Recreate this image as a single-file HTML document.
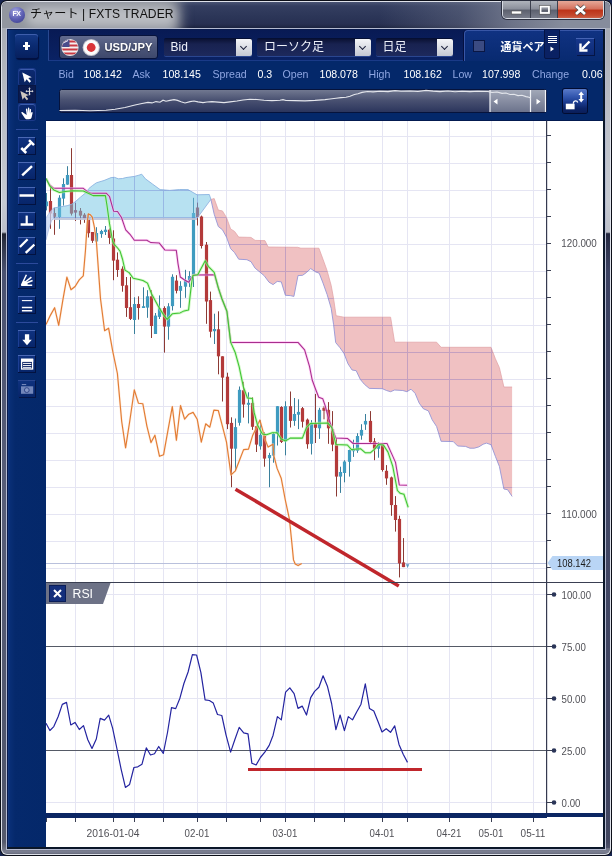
<!DOCTYPE html>
<html lang="ja"><head><meta charset="utf-8"><title>チャート | FXTS TRADER</title>
<style>
html,body{margin:0;padding:0;}
body{width:612px;height:856px;overflow:hidden;background:#17244e;font-family:"Liberation Sans","Noto Sans CJK JP",sans-serif;}
#win{position:absolute;left:0;top:0;width:612px;height:856px;box-sizing:border-box;border-radius:7px;background:#0c0f18;overflow:hidden;}
#hl{position:absolute;left:1px;top:1px;width:610px;height:854px;border-radius:6px;background:#dfe2ea;}
#glass{position:absolute;left:2px;top:2px;width:608px;height:852px;border-radius:5px;
 background:linear-gradient(180deg,#a3a7b0 0,#bcc0c8 120px,#c6cad2 200px,#bcc0ca 230px,#1e2230 232px,#2c3244 240px,#4a5270 270px,#585e78 500px,#50566c 780px,#565a6c 840px,#6e7282 846px,#7c8092 850px,#666a7c 852px);}
#title{position:absolute;left:2px;top:2px;width:608px;height:26px;overflow:hidden;border-radius:5px 5px 0 0;
 background:linear-gradient(180deg,#4a5474 0,#343e60 4px,#2c3658 14px,#283052 22px,#1c2440 26px);}
#glow{position:absolute;left:-30px;top:-12px;width:209px;height:54px;border-radius:20px;background:#92969f;filter:blur(6px);}
#glow2{position:absolute;left:24px;top:5px;width:150px;height:19px;border-radius:9px;background:rgba(255,255,255,.38);filter:blur(5px);}
#tright{position:absolute;left:380px;top:2px;width:230px;height:26px;border-radius:0 5px 0 0;background:linear-gradient(100deg,rgba(126,132,150,0) 0,rgba(126,132,150,.35) 35%,rgba(126,132,150,.8) 58%,rgba(134,140,156,1) 80%);}
#ttext{position:absolute;left:30px;top:5px;font-size:12.100px;line-height:18px;color:#111;white-space:nowrap;letter-spacing:0.100px;}
#ticon{position:absolute;left:8.500px;top:6.500px;width:16px;height:16px;border-radius:50%;background:radial-gradient(circle at 40% 28%,#a4a6e0 0,#5e60b4 50%,#363886 100%);color:#fff;font-size:7px;font-weight:bold;line-height:13.500px;text-align:center;letter-spacing:-0.500px;}
#wb{position:absolute;left:502px;top:1px;width:102px;height:18px;border:1px solid #d8dce4;border-top:none;border-radius:0 0 5px 5px;overflow:hidden;box-sizing:border-box;box-shadow:0 0 0 1px #2c3040;}
#wb div{position:absolute;top:0;height:18px;box-sizing:border-box;}
#wmin{left:0;width:28px;background:linear-gradient(180deg,#b0b4bc 0,#8a8e9a 45%,#5c606e 50%,#7c808e 100%);border-right:1px solid #3c404e;}
#wmax{left:28px;width:27px;background:linear-gradient(180deg,#b0b4bc 0,#8a8e9a 45%,#5c606e 50%,#7c808e 100%);border-right:1px solid #3c404e;}
#wcls{left:55px;width:46px;background:linear-gradient(180deg,#e6a898 0,#d4705c 45%,#bc3218 50%,#c4482e 80%,#d06a50 100%);}
#app{position:absolute;left:6px;top:28px;width:600px;height:822px;background:linear-gradient(90deg,#2a4a8c 0,#0a3078 2px,#05296c 8px,#04286a 40px,#04286a 100%);border:1px solid #b4bad0;box-shadow:inset 0 0 0 1px #081a4e;box-sizing:border-box;}
#topbar{position:absolute;left:48px;top:29.500px;width:555px;height:31.500px;background:linear-gradient(180deg,#081a54 0,#0a2264 100%);border-left:1px solid #284890;border-bottom:1px solid #1a3a88;box-sizing:border-box;}
#white{position:absolute;left:46px;top:120.500px;width:557px;height:726.500px;background:#fff;box-shadow:0 -1px 0 #031a50;}
.lbl{position:absolute;top:67px;font-size:10.600px;line-height:14px;color:#8fa6e2;white-space:nowrap;}
.val{position:absolute;top:67px;font-size:10.600px;line-height:14px;color:#fff;white-space:nowrap;}
.tb{position:absolute;left:18px;width:17px;height:17px;background:linear-gradient(180deg,#0f3280 0,#07256a 100%);
 box-shadow:inset 0 1px 0 #4a68b4,inset 1px 0 0 #1c3e94,1px 1px 0 #021240,0 1px 0 #021240;}
.tb svg{display:block}
.tb.flat{background:linear-gradient(180deg,#0c2a72 0,#08225f 100%);box-shadow:inset 0 1px 0 #3c5cac,0 0 0 1px #1c3a8a;left:19px;width:16px;height:16px;border-radius:2px}
.tb.sel{background:#0a1a4e;box-shadow:0 0 0 1px #081644;left:19px;width:16px;height:16px}
.tb.dis{box-shadow:inset 0 1px 0 #2a4690,1px 1px 0 #051545;}
.cg{display:none}
.sep{position:absolute;left:16px;width:22px;height:1px;background:#2c4a9c;}
.dd{position:absolute;top:39px;height:17px;background:linear-gradient(180deg,#0b1234 0,#182250 30%,#1d295c 100%);border-radius:2px;box-shadow:0 1px 0 #2a4690,0 -1px 0 #050f33;color:#eef1fa;font-size:12px;line-height:17px;}
.dd span{position:absolute;left:7px;top:0;white-space:nowrap}
.dd i{position:absolute;right:0;top:0;width:16px;height:17px;background:linear-gradient(180deg,#f4f5f8 0,#c4c8d2 100%);border-radius:0 2px 2px 0;}
.dd i:after{content:"";position:absolute;left:5px;top:4.500px;width:4px;height:4px;border-right:1.700px solid #1a1f3a;border-bottom:1.700px solid #1a1f3a;transform:rotate(45deg);}
#pair{position:absolute;left:58.500px;top:35px;width:99px;height:24px;box-sizing:border-box;border:1px solid #07133c;border-radius:3px;
 background:linear-gradient(180deg,#626b8e 0,#4c5679 50%,#3e486c 100%);}
#pair b{position:absolute;left:45px;top:4px;font-size:11.200px;line-height:14px;color:#fff;text-shadow:0 1px 1px rgba(0,0,0,.5);white-space:nowrap}
#plus{position:absolute;left:14.500px;top:34px;width:23.500px;height:24px;border-radius:3px;background:linear-gradient(180deg,#153a88 0,#0a2a70 50%,#07205e 100%);box-shadow:inset 0 1px 0 #3e5eac,1px 2px 1px #021040;}
#plus:after{content:"";position:absolute;left:8.200px;top:10.900px;width:7.600px;height:2.300px;background:#fff}
#plus:before{content:"";position:absolute;left:10.850px;top:8.200px;width:2.300px;height:7.600px;background:#fff}
#ccy{position:absolute;left:463.500px;top:30px;width:139.500px;height:31px;border-radius:4px 0 0 0;border-left:1px solid #3856a6;border-top:1px solid #3856a6;background:linear-gradient(180deg,#103282 0,#082a70 100%);box-sizing:border-box;box-shadow:-1px 0 0 #041040;}
#ccy u{position:absolute;left:8px;top:9px;width:12px;height:12px;background:#3b4b82;border:1px solid #0a1744;box-sizing:border-box;}
#ccy b{position:absolute;left:36px;top:7.500px;font-size:11px;line-height:16px;color:#fff;white-space:nowrap;}
#tab{position:absolute;left:544px;top:29px;width:15.500px;height:29.500px;background:#0a2163;border:1px solid #051445;box-sizing:border-box;border-radius:0 0 2px 2px;}
#shr{position:absolute;left:576px;top:38px;width:18px;height:17px;background:linear-gradient(180deg,#17388c 0,#0d2a76 100%);box-shadow:inset 0 1px 0 #4664b4,1px 1px 0 #051545;}
#lock{position:absolute;left:563px;top:89px;width:24px;height:23.500px;border-radius:2px;background:linear-gradient(180deg,#5a7ac8 0,#3458b0 30%,#1c3c90 55%,#0c2468 80%,#0a1e5a 100%);box-shadow:0 0 0 1px #020c30;}
</style></head><body>
<div id="win">
 <div id="hl"></div><div id="glass"></div>
 <div id="title"><div id="glow"></div><div id="glow2"></div></div><div id="tright"></div>
 <div id="ticon">FX</div>
 <div id="ttext">チャート | FXTS TRADER</div>
 <div id="wb"><div id="wmin"><svg width="28" height="18"><rect x="8.500" y="10" width="10" height="3" fill="#fff" stroke="#555" stroke-width=".6"/></svg></div>
  <div id="wmax"><svg width="27" height="18"><rect x="9.500" y="5.500" width="8.500" height="6.500" fill="none" stroke="#fff" stroke-width="1.900"/><rect x="8.300" y="4.300" width="10.900" height="8.900" fill="none" stroke="#555" stroke-width=".6"/></svg></div>
  <div id="wcls"><svg width="46" height="18"><path d="M18 5l9 8M27 5l-9 8" stroke="#444" stroke-width="4.200"/><path d="M18 5l9 8M27 5l-9 8" stroke="#fff" stroke-width="2.800"/></svg></div></div>
 <div id="app"></div>
</div>
<div id="topbar"></div>
<div id="white"></div><div style="position:absolute;left:603px;top:29px;width:2px;height:820px;background:#0a1628"></div><div style="position:absolute;left:7px;top:847px;width:598px;height:2px;background:#0a1628"></div><div style="position:absolute;left:606px;top:233px;width:4px;height:615px;background:rgba(40,44,80,.45)"></div>
<div id="plus"></div>
<div id="pair">
 <svg style="position:absolute;left:.5px;top:2px" width="42" height="19" viewBox="0 0 42 19">
  <defs><clipPath id="us"><circle cx="10" cy="9.500" r="8"/></clipPath></defs>
  <circle cx="10" cy="9.500" r="8.600" fill="#d8d8dc"/>
  <g clip-path="url(#us)"><rect x="0" y="0" width="20" height="20" fill="#f4f0f0"/>
  <path d="M0 3.500h20M0 7.500h20M0 11.500h20M0 15.500h20" stroke="#c83a44" stroke-width="2"/>
  <rect x="0" y="0" width="9.500" height="9" fill="#4a4c8c"/><path d="M3 5l5-2.500" stroke="#e8e8f4" stroke-width="1.200"/></g>
  <circle cx="31.200" cy="9.500" r="8.600" fill="#c8c8d0"/><circle cx="31.200" cy="9.500" r="7.600" fill="#fbfbfb"/><circle cx="31.200" cy="9.500" r="4.400" fill="#d93438"/>
 </svg>
 <b>USD/JPY</b></div>
<div class="dd" style="left:163.500px;width:88.500px"><span>Bid</span><i></i></div>
<div class="dd" style="left:257px;width:114px"><span>ローソク足</span><i></i></div>
<div class="dd" style="left:375.500px;width:77px"><span>日足</span><i></i></div>
<div id="ccy"><u></u><b>通貨ペア</b></div>
<div id="tab"><svg width="14" height="28" viewBox="0 0 14 28"><path d="M3 6.500h9M3 8.500h9M3 10.500h9M3 12.500h9" stroke="#fff" stroke-width="1"/><path d="M5.500 16.500v5l3.500-2.500z" fill="#fff"/></svg></div>
<div id="shr"><svg width="18" height="17" viewBox="0 0 18 17"><path d="M13.500 3.500L6 11" stroke="#fff" stroke-width="2.400"/><path d="M4.500 5.500v7h7" fill="none" stroke="#fff" stroke-width="2.400"/></svg></div>
<span class="lbl" style="left:58.500px">Bid</span><span class="val" style="left:83.500px">108.142</span>
<span class="lbl" style="left:132.500px">Ask</span><span class="val" style="left:162.500px">108.145</span>
<span class="lbl" style="left:212.500px">Spread</span><span class="val" style="left:257.500px">0.3</span>
<span class="lbl" style="left:282.500px">Open</span><span class="val" style="left:319.500px">108.078</span>
<span class="lbl" style="left:368.500px">High</span><span class="val" style="left:403.500px">108.162</span>
<span class="lbl" style="left:452.500px">Low</span><span class="val" style="left:482px">107.998</span>
<span class="lbl" style="left:532px">Change</span><span class="val" style="left:582px">0.06</span>
<svg style="position:absolute;left:0;top:0" width="612" height="130" viewBox="0 0 612 130"><defs><linearGradient id="ng" x1="0" y1="0" x2="0" y2="1"><stop offset="0" stop-color="#737a92"/><stop offset="0.45" stop-color="#4a5272"/><stop offset="1" stop-color="#2a345c"/></linearGradient><linearGradient id="nw" x1="0" y1="0" x2="0" y2="1"><stop offset="0" stop-color="#a2a8b8"/><stop offset="1" stop-color="#6c738c"/></linearGradient></defs><rect x="59.5" y="89.5" width="487" height="23" rx="2" fill="url(#ng)" stroke="#06133c" stroke-width="1"/><rect x="490" y="90" width="56" height="22" fill="url(#nw)"/><path d="M490 90V112M530.5 90V112M545.5 90V112" stroke="#f2f4f8" stroke-width="1.2"/><path d="M497.5 98.8v5.6l-4-2.8zM536.5 98.8v5.6l4-2.8z" fill="#fff"/><polyline points="59.5,110.5 75.0,110.2 90.0,110.8 106.0,110.3 115.0,109.2 125.0,107.5 135.0,105.0 142.0,103.5 148.0,102.4 152.0,102.9 156.0,101.6 160.0,102.2 163.0,100.2 166.0,101.2 170.0,100.4 174.0,99.6 177.5,100.4 181.0,101.8 185.0,103.0 190.0,101.6 194.0,101.0 198.0,101.9 203.0,102.6 207.0,102.0 212.0,101.6 218.0,102.1 224.0,102.6 230.0,101.9 237.0,101.0 243.0,100.0 250.0,99.3 257.0,99.5 264.0,100.3 272.0,100.6 280.0,100.2 283.0,99.6 286.0,100.5 295.0,100.6 305.0,100.9 315.0,100.4 325.0,99.6 330.0,99.0 336.0,98.2 341.0,97.6 346.0,97.2 350.0,96.2 354.4,94.5 358.0,93.8 362.0,92.4 367.6,91.5 373.0,91.9 380.0,91.2 388.0,91.6 395.0,90.6 401.0,91.3 410.0,91.0 418.0,91.5 426.0,90.4 433.0,91.1 440.0,91.6 448.0,91.0 455.0,91.7 462.0,91.2 470.0,91.6 478.0,91.2 488.0,91.5 492.0,92.5 497.0,92.0 502.0,93.4 506.0,93.0 510.0,94.5 514.0,94.2 518.0,95.6 522.0,95.2 526.0,96.6 529.0,97.2 531.0,98.2" fill="none" stroke="#e4e6ec" stroke-width="1.1"/></svg>
<div id="lock"><svg width="25" height="25" viewBox="0 0 25 25"><rect x="2.800" y="14.700" width="8.800" height="5.600" fill="#fff"/><path d="M10.400 14.700v-.8a2.200 2.200 0 0 1 4.300-.4" fill="none" stroke="#fff" stroke-width="1.300"/><path d="M18.200 5v6" stroke="#fff" stroke-width="2"/><path d="M18.200 2.500l2.800 3.600h-5.600zM18.200 13.600l2.800-3.600h-5.600z" fill="#fff"/></svg></div>
<div class="cg"></div>
<div class="tb flat" style="top:69px"><svg width="17" height="17" viewBox="0 0 17 17"><path d="M4.5 2.5v10l2.6-2.4 1.9 4 1.9-.9-1.9-3.9h3.6z" fill="#fff" transform="rotate(-14 8 8)"/></svg></div>
<div class="tb sel" style="top:86px"><svg width="17" height="17" viewBox="0 0 17 17"><path d="M2.5 4v9l2.3-2.1 1.7 3.6 1.7-.8-1.7-3.5h3.2z" fill="#cfc8c0" transform="rotate(-14 6 9)"/><path d="M10.5 2.3v6M7.5 5.3h6" stroke="#dcdcdc" stroke-width="1"/><path d="M10.5 1.2l1.300 1.600h-2.600zM10.500 9.400l1.300-1.600h-2.600zM6.400 5.300l1.600-1.300v2.600zM14.600 5.300l-1.600-1.300v2.600z" fill="#dcdcdc"/></svg></div>
<div class="tb flat" style="top:104px"><svg width="17" height="17" viewBox="0 0 17 17"><path d="M4 8.500c-1-.8-2.200-.3-1.300.9l3 4.600c.6.900 1.300 1.200 2.300 1.200h2c1.600 0 2.400-1 2.700-2.300l.9-4c.2-1-1.100-1.300-1.400-.4l-.4 1.200.3-3.900c.1-1-1.300-1.100-1.400-.1l-.3 3.300-.1-4.800c0-1-1.400-1-1.400 0v4.800l-.6-3.800c-.2-1-1.500-.8-1.400.2l.8 5.500z" fill="#fff"/></svg></div>
<div class="tb " style="top:137px"><svg width="17" height="17" viewBox="0 0 17 17"><path d="M5.600 13.400l8-8" stroke="#fff" stroke-width="2.300"/><path d="M3.200 11l5 5M11 3.200l5 5" stroke="#fff" stroke-width="2.500"/></svg></div>
<div class="tb " style="top:162px"><svg width="17" height="17" viewBox="0 0 17 17"><path d="M4.200 13.400l9.800-9.200" stroke="#fff" stroke-width="2.400"/></svg></div>
<div class="tb " style="top:187px"><svg width="17" height="17" viewBox="0 0 17 17"><path d="M1.500 8.500h14.500" stroke="#fff" stroke-width="2.500"/></svg></div>
<div class="tb " style="top:212px"><svg width="17" height="17" viewBox="0 0 17 17"><path d="M2.600 12.500h12.600" stroke="#fff" stroke-width="2.500"/><path d="M8.700 3.600v9" stroke="#fff" stroke-width="2.200"/></svg></div>
<div class="tb " style="top:237px"><svg width="17" height="17" viewBox="0 0 17 17"><path d="M1.900 10l7.700-7.700M7.700 15.800l8.700-8.300" stroke="#fff" stroke-width="2.300"/></svg></div>
<div class="tb " style="top:271px"><svg width="17" height="17" viewBox="0 0 17 17"><path d="M3.500 14L8.400 3.800M3.500 14L13.400 6.200M3.500 14L14.600 9.500M3.500 14.200H14.200" stroke="#fff" stroke-width="1.500"/><path d="M3 15l2.400-5.500 2.600 1.300 1.500 1.800 .3 2.400z" fill="#fff"/></svg></div>
<div class="tb " style="top:296px"><svg width="17" height="17" viewBox="0 0 17 17"><path d="M3.900 4.600h10.300" stroke="#fff" stroke-width="1.100"/><path d="M3.900 11.500h10.300M3.900 14.700h10.300" stroke="#fff" stroke-width="1.500"/></svg></div>
<div class="tb " style="top:330px"><svg width="17" height="17" viewBox="0 0 17 17"><path d="M6.900 4.200h4.300v5.600h2.600l-4.800 5.400-4.700-5.400h2.600z" fill="#fff"/></svg></div>
<div class="tb " style="top:355px"><svg width="17" height="17" viewBox="0 0 17 17"><rect x="3.600" y="4.400" width="11" height="9.600" fill="#0a2264" stroke="#fff" stroke-width="1.300"/><path d="M3 5.300h12.200" stroke="#fff" stroke-width="3.200"/><path d="M5 8.400h8.300M5 10.600h8.300M5 12.700h8.300" stroke="#fff" stroke-width="1"/></svg></div>
<div class="tb dis" style="top:380px"><svg width="17" height="17" viewBox="0 0 17 17"><rect x="3" y="6.300" width="12.200" height="7.500" fill="#7286ba"/><rect x="3.800" y="4" width="4.400" height="1.100" fill="#7286ba"/><circle cx="8.800" cy="10.100" r="2.400" fill="#8496c6" stroke="#33488a" stroke-width="1"/></svg></div>
<div class="sep" style="top:128.500px"></div>
<div class="sep" style="top:262.500px"></div>
<div class="sep" style="top:321.500px"></div>
<svg id="chart" style="position:absolute;left:0;top:0" width="612" height="856" viewBox="0 0 612 856">
<defs><clipPath id="cpm"><rect x="46" y="120" width="501" height="462.5"/></clipPath><clipPath id="cpr"><rect x="46" y="583" width="501" height="231"/></clipPath></defs>
<path d="M75.5 120.5V813.5M113.5 120.5V813.5M134.5 120.5V813.5M163.5 120.5V813.5M197.5 120.5V813.5M226.5 120.5V813.5M260.5 120.5V813.5M285.5 120.5V813.5M314.5 120.5V813.5M344.5 120.5V813.5M382.5 120.5V813.5M407.5 120.5V813.5M449.5 120.5V813.5M491.5 120.5V813.5M533.5 120.5V813.5M46 568.5H546M46 541.5H546M46 514.5H546M46 487.5H546M46 460.5H546M46 433.5H546M46 406.5H546M46 379.5H546M46 352.5H546M46 325.5H546M46 298.5H546M46 271.5H546M46 244.5H546M46 217.5H546M46 190.5H546M46 163.5H546M46 136.5H546M46 594.5H547M46 698.5H547M46 802.5H547" stroke="#e5e5f3" stroke-width="1" fill="none" shape-rendering="crispEdges"/>
<path d="M46 563.5H547" stroke="#b9c0dc" stroke-width="1" shape-rendering="crispEdges"/>
<g clip-path="url(#cpm)">
<rect x="46.0" y="193.0" width="1" height="17.4" fill="#3a7f9c"/>
<rect x="44.9" y="201.5" width="3.2" height="4.7" fill="#3f9bc0"/>
<rect x="50.0" y="186.8" width="1" height="42.0" fill="#8c3a34"/>
<rect x="48.9" y="201.0" width="3.2" height="12.5" fill="#b33a3a"/>
<rect x="54.0" y="207.8" width="1" height="27.0" fill="#8c3a34"/>
<rect x="52.9" y="213.0" width="3.2" height="3.8" fill="#b33a3a"/>
<rect x="59.0" y="195.2" width="1" height="33.6" fill="#3a7f9c"/>
<rect x="57.9" y="197.7" width="3.2" height="19.3" fill="#3f9bc0"/>
<rect x="63.0" y="178.3" width="1" height="27.3" fill="#3a7f9c"/>
<rect x="61.9" y="184.0" width="3.2" height="14.6" fill="#3f9bc0"/>
<rect x="67.0" y="166.2" width="1" height="18.6" fill="#3a7f9c"/>
<rect x="65.9" y="175.0" width="3.2" height="9.6" fill="#3f9bc0"/>
<rect x="71.0" y="148.2" width="1" height="67.3" fill="#8c3a34"/>
<rect x="69.9" y="175.0" width="3.2" height="38.6" fill="#b33a3a"/>
<rect x="75.0" y="203.0" width="1" height="18.0" fill="#8c3a34"/>
<rect x="73.9" y="210.1" width="3.2" height="2.5" fill="#b33a3a"/>
<rect x="80.0" y="208.0" width="1" height="16.4" fill="#8c3a34"/>
<rect x="78.9" y="210.8" width="3.2" height="4.8" fill="#b33a3a"/>
<rect x="84.0" y="213.1" width="1" height="9.7" fill="#8c3a34"/>
<rect x="82.9" y="214.7" width="3.2" height="3.9" fill="#b33a3a"/>
<rect x="88.0" y="213.0" width="1" height="24.5" fill="#8c3a34"/>
<rect x="86.9" y="218.0" width="3.2" height="15.2" fill="#b33a3a"/>
<rect x="92.0" y="232.0" width="1" height="10.9" fill="#8c3a34"/>
<rect x="90.9" y="232.0" width="3.2" height="8.8" fill="#b33a3a"/>
<rect x="96.0" y="227.2" width="1" height="14.9" fill="#3a7f9c"/>
<rect x="94.9" y="233.0" width="3.2" height="8.5" fill="#3f9bc0"/>
<rect x="101.0" y="229.8" width="1" height="8.0" fill="#3a7f9c"/>
<rect x="99.9" y="231.0" width="3.2" height="3.1" fill="#3f9bc0"/>
<rect x="105.0" y="226.0" width="1" height="9.0" fill="#3a7f9c"/>
<rect x="103.9" y="229.7" width="3.2" height="2.3" fill="#3f9bc0"/>
<rect x="109.0" y="228.4" width="1" height="15.5" fill="#8c3a34"/>
<rect x="107.9" y="229.7" width="3.2" height="8.2" fill="#b33a3a"/>
<rect x="113.0" y="230.3" width="1" height="49.9" fill="#8c3a34"/>
<rect x="111.9" y="238.5" width="3.2" height="22.1" fill="#b33a3a"/>
<rect x="117.0" y="252.4" width="1" height="24.5" fill="#8c3a34"/>
<rect x="115.9" y="259.7" width="3.2" height="10.3" fill="#b33a3a"/>
<rect x="122.0" y="266.3" width="1" height="25.4" fill="#8c3a34"/>
<rect x="120.9" y="268.7" width="3.2" height="17.1" fill="#b33a3a"/>
<rect x="126.0" y="277.0" width="1" height="39.9" fill="#8c3a34"/>
<rect x="124.9" y="285.3" width="3.2" height="22.7" fill="#b33a3a"/>
<rect x="130.0" y="277.0" width="1" height="43.0" fill="#8c3a34"/>
<rect x="128.9" y="307.2" width="3.2" height="11.7" fill="#b33a3a"/>
<rect x="134.0" y="297.3" width="1" height="36.7" fill="#3a7f9c"/>
<rect x="132.9" y="304.0" width="3.2" height="16.0" fill="#3f9bc0"/>
<rect x="138.0" y="296.3" width="1" height="23.3" fill="#8c3a34"/>
<rect x="136.9" y="304.0" width="3.2" height="4.0" fill="#b33a3a"/>
<rect x="143.0" y="287.3" width="1" height="20.7" fill="#3a7f9c"/>
<rect x="141.9" y="306.2" width="3.2" height="1.8" fill="#3f9bc0"/>
<rect x="147.0" y="290.2" width="1" height="27.6" fill="#3a7f9c"/>
<rect x="145.9" y="296.3" width="3.2" height="11.3" fill="#3f9bc0"/>
<rect x="151.0" y="290.2" width="1" height="47.8" fill="#8c3a34"/>
<rect x="149.9" y="296.3" width="3.2" height="29.7" fill="#b33a3a"/>
<rect x="155.0" y="313.0" width="1" height="21.0" fill="#3a7f9c"/>
<rect x="153.9" y="315.6" width="3.2" height="18.4" fill="#3f9bc0"/>
<rect x="159.0" y="295.4" width="1" height="23.6" fill="#3a7f9c"/>
<rect x="157.9" y="308.1" width="3.2" height="8.8" fill="#3f9bc0"/>
<rect x="164.0" y="306.3" width="1" height="46.3" fill="#8c3a34"/>
<rect x="162.9" y="308.0" width="3.2" height="18.6" fill="#b33a3a"/>
<rect x="168.0" y="303.2" width="1" height="36.5" fill="#3a7f9c"/>
<rect x="166.9" y="306.3" width="3.2" height="20.3" fill="#3f9bc0"/>
<rect x="172.0" y="274.3" width="1" height="36.2" fill="#3a7f9c"/>
<rect x="170.9" y="276.8" width="3.2" height="29.3" fill="#3f9bc0"/>
<rect x="176.0" y="275.2" width="1" height="18.2" fill="#8c3a34"/>
<rect x="174.9" y="280.6" width="3.2" height="10.2" fill="#b33a3a"/>
<rect x="180.0" y="281.2" width="1" height="26.6" fill="#3a7f9c"/>
<rect x="178.9" y="285.9" width="3.2" height="4.9" fill="#3f9bc0"/>
<rect x="185.0" y="269.8" width="1" height="28.0" fill="#3a7f9c"/>
<rect x="183.9" y="280.6" width="3.2" height="6.1" fill="#3f9bc0"/>
<rect x="189.0" y="271.2" width="1" height="15.9" fill="#3a7f9c"/>
<rect x="187.9" y="276.0" width="3.2" height="4.6" fill="#3f9bc0"/>
<rect x="193.0" y="197.8" width="1" height="89.2" fill="#3a7f9c"/>
<rect x="191.9" y="213.0" width="3.2" height="62.4" fill="#3f9bc0"/>
<rect x="197.0" y="202.6" width="1" height="22.9" fill="#8c3a34"/>
<rect x="195.9" y="207.5" width="3.2" height="9.5" fill="#b33a3a"/>
<rect x="201.0" y="215.6" width="1" height="32.9" fill="#8c3a34"/>
<rect x="199.9" y="216.5" width="3.2" height="29.5" fill="#b33a3a"/>
<rect x="206.0" y="242.0" width="1" height="81.8" fill="#8c3a34"/>
<rect x="204.9" y="244.7" width="3.2" height="56.8" fill="#b33a3a"/>
<rect x="210.0" y="291.6" width="1" height="45.9" fill="#8c3a34"/>
<rect x="208.9" y="300.1" width="3.2" height="31.6" fill="#b33a3a"/>
<rect x="214.0" y="313.7" width="1" height="30.3" fill="#3a7f9c"/>
<rect x="212.9" y="329.0" width="3.2" height="2.2" fill="#3f9bc0"/>
<rect x="218.0" y="311.3" width="1" height="63.0" fill="#8c3a34"/>
<rect x="216.9" y="329.3" width="3.2" height="27.0" fill="#b33a3a"/>
<rect x="222.0" y="356.3" width="1" height="45.2" fill="#8c3a34"/>
<rect x="220.9" y="356.3" width="3.2" height="21.3" fill="#b33a3a"/>
<rect x="227.0" y="372.7" width="1" height="56.4" fill="#8c3a34"/>
<rect x="225.9" y="376.7" width="3.2" height="47.5" fill="#b33a3a"/>
<rect x="231.0" y="417.3" width="1" height="69.9" fill="#8c3a34"/>
<rect x="229.9" y="422.9" width="3.2" height="25.8" fill="#b33a3a"/>
<rect x="235.0" y="418.5" width="1" height="52.3" fill="#3a7f9c"/>
<rect x="233.9" y="427.1" width="3.2" height="21.6" fill="#3f9bc0"/>
<rect x="239.0" y="386.5" width="1" height="39.1" fill="#3a7f9c"/>
<rect x="237.9" y="389.8" width="3.2" height="33.0" fill="#3f9bc0"/>
<rect x="243.0" y="381.8" width="1" height="35.8" fill="#8c3a34"/>
<rect x="241.9" y="390.3" width="3.2" height="14.2" fill="#b33a3a"/>
<rect x="248.0" y="392.3" width="1" height="31.1" fill="#3a7f9c"/>
<rect x="246.9" y="402.8" width="3.2" height="2.0" fill="#3f9bc0"/>
<rect x="252.0" y="397.2" width="1" height="32.7" fill="#8c3a34"/>
<rect x="250.9" y="402.9" width="3.2" height="23.9" fill="#b33a3a"/>
<rect x="256.0" y="425.8" width="1" height="26.2" fill="#8c3a34"/>
<rect x="254.9" y="426.2" width="3.2" height="18.4" fill="#b33a3a"/>
<rect x="260.0" y="420.0" width="1" height="29.6" fill="#3a7f9c"/>
<rect x="258.9" y="434.8" width="3.2" height="11.5" fill="#3f9bc0"/>
<rect x="264.0" y="432.4" width="1" height="34.3" fill="#8c3a34"/>
<rect x="262.9" y="435.6" width="3.2" height="23.0" fill="#b33a3a"/>
<rect x="269.0" y="452.8" width="1" height="34.4" fill="#3a7f9c"/>
<rect x="267.9" y="455.0" width="3.2" height="3.2" fill="#3f9bc0"/>
<rect x="273.0" y="432.4" width="1" height="30.3" fill="#3a7f9c"/>
<rect x="271.9" y="434.0" width="3.2" height="21.6" fill="#3f9bc0"/>
<rect x="277.0" y="406.2" width="1" height="39.3" fill="#3a7f9c"/>
<rect x="275.9" y="406.2" width="3.2" height="27.8" fill="#3f9bc0"/>
<rect x="281.0" y="406.2" width="1" height="36.8" fill="#8c3a34"/>
<rect x="279.9" y="407.0" width="3.2" height="34.9" fill="#b33a3a"/>
<rect x="285.0" y="401.3" width="1" height="54.0" fill="#3a7f9c"/>
<rect x="283.9" y="406.2" width="3.2" height="35.2" fill="#3f9bc0"/>
<rect x="290.0" y="391.5" width="1" height="36.0" fill="#8c3a34"/>
<rect x="288.9" y="406.2" width="3.2" height="14.7" fill="#b33a3a"/>
<rect x="294.0" y="398.0" width="1" height="27.8" fill="#3a7f9c"/>
<rect x="292.9" y="414.0" width="3.2" height="6.9" fill="#3f9bc0"/>
<rect x="298.0" y="399.3" width="1" height="29.8" fill="#3a7f9c"/>
<rect x="296.9" y="411.9" width="3.2" height="2.8" fill="#3f9bc0"/>
<rect x="302.0" y="407.0" width="1" height="20.5" fill="#8c3a34"/>
<rect x="300.9" y="408.2" width="3.2" height="13.5" fill="#b33a3a"/>
<rect x="307.0" y="418.5" width="1" height="30.2" fill="#8c3a34"/>
<rect x="305.9" y="419.6" width="3.2" height="24.6" fill="#b33a3a"/>
<rect x="311.0" y="420.1" width="1" height="34.4" fill="#3a7f9c"/>
<rect x="309.9" y="422.9" width="3.2" height="20.9" fill="#3f9bc0"/>
<rect x="315.0" y="393.9" width="1" height="49.1" fill="#8c3a34"/>
<rect x="313.9" y="423.4" width="3.2" height="4.4" fill="#b33a3a"/>
<rect x="319.0" y="407.8" width="1" height="31.1" fill="#3a7f9c"/>
<rect x="317.9" y="409.8" width="3.2" height="18.5" fill="#3f9bc0"/>
<rect x="323.5" y="406.2" width="1" height="13.1" fill="#8c3a34"/>
<rect x="322.4" y="407.8" width="3.2" height="3.0" fill="#b33a3a"/>
<rect x="328.0" y="402.1" width="1" height="41.7" fill="#8c3a34"/>
<rect x="326.9" y="409.8" width="3.2" height="18.5" fill="#b33a3a"/>
<rect x="332.0" y="411.1" width="1" height="40.1" fill="#8c3a34"/>
<rect x="330.9" y="429.1" width="3.2" height="15.5" fill="#b33a3a"/>
<rect x="336.0" y="438.1" width="1" height="58.4" fill="#8c3a34"/>
<rect x="334.9" y="444.6" width="3.2" height="32.0" fill="#b33a3a"/>
<rect x="340.0" y="466.7" width="1" height="26.2" fill="#3a7f9c"/>
<rect x="338.9" y="472.0" width="3.2" height="4.6" fill="#3f9bc0"/>
<rect x="344.0" y="460.2" width="1" height="22.1" fill="#3a7f9c"/>
<rect x="342.9" y="461.5" width="3.2" height="11.5" fill="#3f9bc0"/>
<rect x="349.0" y="449.6" width="1" height="27.0" fill="#3a7f9c"/>
<rect x="347.9" y="450.0" width="3.2" height="11.8" fill="#3f9bc0"/>
<rect x="353.0" y="439.7" width="1" height="17.2" fill="#3a7f9c"/>
<rect x="351.9" y="449.6" width="3.2" height="1.6" fill="#3f9bc0"/>
<rect x="357.0" y="433.2" width="1" height="19.6" fill="#3a7f9c"/>
<rect x="355.9" y="436.0" width="3.2" height="14.7" fill="#3f9bc0"/>
<rect x="361.0" y="424.2" width="1" height="15.5" fill="#3a7f9c"/>
<rect x="359.9" y="429.9" width="3.2" height="5.7" fill="#3f9bc0"/>
<rect x="365.0" y="414.0" width="1" height="15.9" fill="#3a7f9c"/>
<rect x="363.9" y="420.9" width="3.2" height="3.6" fill="#3f9bc0"/>
<rect x="370.0" y="411.1" width="1" height="31.9" fill="#8c3a34"/>
<rect x="368.9" y="420.9" width="3.2" height="21.3" fill="#b33a3a"/>
<rect x="374.0" y="438.1" width="1" height="22.1" fill="#8c3a34"/>
<rect x="372.9" y="441.4" width="3.2" height="7.3" fill="#b33a3a"/>
<rect x="378.0" y="442.2" width="1" height="15.5" fill="#3a7f9c"/>
<rect x="376.9" y="444.6" width="3.2" height="4.1" fill="#3f9bc0"/>
<rect x="382.0" y="443.0" width="1" height="28.6" fill="#8c3a34"/>
<rect x="380.9" y="444.6" width="3.2" height="25.4" fill="#b33a3a"/>
<rect x="386.0" y="465.1" width="1" height="19.7" fill="#8c3a34"/>
<rect x="384.9" y="470.8" width="3.2" height="7.6" fill="#b33a3a"/>
<rect x="391.0" y="476.6" width="1" height="39.2" fill="#8c3a34"/>
<rect x="389.9" y="477.4" width="3.2" height="27.7" fill="#b33a3a"/>
<rect x="395.0" y="496.1" width="1" height="35.5" fill="#8c3a34"/>
<rect x="393.9" y="505.0" width="3.2" height="15.0" fill="#b33a3a"/>
<rect x="399.0" y="515.7" width="1" height="61.7" fill="#8c3a34"/>
<rect x="397.9" y="518.9" width="3.2" height="44.5" fill="#b33a3a"/>
<rect x="403.0" y="538.1" width="1" height="29.0" fill="#8c3a34"/>
<rect x="401.9" y="562.4" width="3.2" height="4.7" fill="#b33a3a"/>
<polygon points="46.0,217.8 50.3,211.5 53.5,208.0 53.5,218.3 51.4,220.9 49.3,227.2 46.0,239.8" fill="rgba(196,212,240,0.75)" stroke="rgba(160,180,225,0.8)" stroke-width="0.8"/>
<polygon points="53.5,208.0 67.1,205.7 71.9,204.2 75.5,201.5 80.4,197.2 86.0,192.6 89.0,188.4 92.3,185.7 96.4,182.8 104.0,180.5 111.1,177.6 114.4,177.3 118.4,178.8 122.6,178.5 125.8,177.6 134.4,176.4 138.9,175.2 141.7,174.2 145.4,178.8 152.7,184.2 160.1,189.6 169.9,190.4 179.7,189.5 188.0,189.6 197.0,194.8 209.3,194.5 210.9,199.4 210.9,199.4 197.0,218.3 53.5,218.3" fill="rgba(112,196,228,0.50)" stroke="none"/>
<polyline points="53.5,208.0 67.1,205.7 71.9,204.2 75.5,201.5 80.4,197.2 86.0,192.6 89.0,188.4 92.3,185.7 96.4,182.8 104.0,180.5 111.1,177.6 114.4,177.3 118.4,178.8 122.6,178.5 125.8,177.6 134.4,176.4 138.9,175.2 141.7,174.2 145.4,178.8 152.7,184.2 160.1,189.6 169.9,190.4 179.7,189.5 188.0,189.6 197.0,194.8 209.3,194.5 210.9,199.4" fill="none" stroke="rgba(140,180,225,0.9)" stroke-width="1"/>
<polyline points="53.5,219.0 197.0,219.0" fill="none" stroke="rgba(190,196,216,0.9)" stroke-width="2"/>
<polyline points="197.0,218.3 210.9,199.4" fill="none" stroke="rgba(150,180,225,0.9)" stroke-width="1"/>
<polygon points="210.9,199.4 214.2,198.6 218.3,210.1 222.4,210.9 226.5,217.5 230.6,228.9 234.6,231.4 238.7,237.1 251.0,237.4 255.1,240.4 264.9,240.6 268.2,247.0 297.6,247.3 300.9,248.2 318.9,248.2 323.0,259.3 327.1,270.7 331.2,285.5 333.6,298.6 336.1,315.7 340.2,316.5 343.9,317.2 390.6,317.2 394.6,342.2 436.6,342.2 441.1,347.3 491.0,347.3 495.4,358.8 499.4,367.7 503.9,387.0 512.1,387.0 512.1,496.4 507.6,489.7 503.9,489.0 499.4,466.4 495.4,456.4 491.0,444.7 486.5,443.1 483.2,444.2 478.8,446.9 474.3,448.2 469.9,448.2 465.5,446.4 457.7,446.0 453.3,441.6 441.1,441.3 436.6,426.5 432.2,419.8 428.4,410.9 423.3,408.7 419.2,403.1 415.1,393.3 411.0,389.2 406.9,391.7 402.8,390.5 394.6,390.0 390.6,391.7 386.5,390.5 382.4,388.7 369.3,388.4 364.4,384.3 360.3,379.4 356.2,370.7 352.1,370.0 348.0,363.8 343.9,353.2 339.8,347.5 335.7,342.6 333.6,324.7 331.2,308.4 327.1,294.5 323.0,283.0 319.2,273.2 315.6,271.9 310.7,268.6 306.6,272.4 302.6,275.3 298.0,275.6 293.9,296.4 290.3,295.6 285.4,295.3 281.3,281.9 277.2,281.4 273.1,284.6 269.0,282.2 264.1,275.6 259.2,271.5 255.1,268.2 251.0,261.7 246.9,259.7 238.7,259.2 234.6,252.7 230.6,248.6 226.5,237.1 222.4,229.7 218.3,226.5 214.2,214.2 210.9,199.4" fill="rgba(226,136,138,0.52)" stroke="none"/>
<polyline points="210.9,199.4 214.2,198.6 218.3,210.1 222.4,210.9 226.5,217.5 230.6,228.9 234.6,231.4 238.7,237.1 251.0,237.4 255.1,240.4 264.9,240.6 268.2,247.0 297.6,247.3 300.9,248.2 318.9,248.2 323.0,259.3 327.1,270.7 331.2,285.5 333.6,298.6 336.1,315.7 340.2,316.5 343.9,317.2 390.6,317.2 394.6,342.2 436.6,342.2 441.1,347.3 491.0,347.3 495.4,358.8 499.4,367.7 503.9,387.0 512.1,387.0" fill="none" stroke="rgba(225,160,165,0.9)" stroke-width="0.8"/>
<polyline points="210.9,199.4 214.2,214.2 218.3,226.5 222.4,229.7 226.5,237.1 230.6,248.6 234.6,252.7 238.7,259.2 246.9,259.7 251.0,261.7 255.1,268.2 259.2,271.5 264.1,275.6 269.0,282.2 273.1,284.6 277.2,281.4 281.3,281.9 285.4,295.3 290.3,295.6 293.9,296.4 298.0,275.6 302.6,275.3 306.6,272.4 310.7,268.6 315.6,271.9 319.2,273.2 323.0,283.0 327.1,294.5 331.2,308.4 333.6,324.7 335.7,342.6 339.8,347.5 343.9,353.2 348.0,363.8 352.1,370.0 356.2,370.7 360.3,379.4 364.4,384.3 369.3,388.4 382.4,388.7 386.5,390.5 390.6,391.7 394.6,390.0 402.8,390.5 406.9,391.7 411.0,389.2 415.1,393.3 419.2,403.1 423.3,408.7 428.4,410.9 432.2,419.8 436.6,426.5 441.1,441.3 453.3,441.6 457.7,446.0 465.5,446.4 469.9,448.2 474.3,448.2 478.8,446.9 483.2,444.2 486.5,443.1 491.0,444.7 495.4,456.4 499.4,466.4 503.9,489.0 507.6,489.7 512.1,496.4" fill="none" stroke="rgba(150,150,215,0.9)" stroke-width="1"/>
<clipPath id="ccl"><polygon points="53.5,208.0 67.1,205.7 71.9,204.2 75.5,201.5 80.4,197.2 86.0,192.6 89.0,188.4 92.3,185.7 96.4,182.8 104.0,180.5 111.1,177.6 114.4,177.3 118.4,178.8 122.6,178.5 125.8,177.6 134.4,176.4 138.9,175.2 141.7,174.2 145.4,178.8 152.7,184.2 160.1,189.6 169.9,190.4 179.7,189.5 188.0,189.6 197.0,194.8 209.3,194.5 210.9,199.4 210.9,199.4 197.0,218.3 53.5,218.3"/><polygon points="210.9,199.4 214.2,198.6 218.3,210.1 222.4,210.9 226.5,217.5 230.6,228.9 234.6,231.4 238.7,237.1 251.0,237.4 255.1,240.4 264.9,240.6 268.2,247.0 297.6,247.3 300.9,248.2 318.9,248.2 323.0,259.3 327.1,270.7 331.2,285.5 333.6,298.6 336.1,315.7 340.2,316.5 343.9,317.2 390.6,317.2 394.6,342.2 436.6,342.2 441.1,347.3 491.0,347.3 495.4,358.8 499.4,367.7 503.9,387.0 512.1,387.0 512.1,496.4 507.6,489.7 503.9,489.0 499.4,466.4 495.4,456.4 491.0,444.7 486.5,443.1 483.2,444.2 478.8,446.9 474.3,448.2 469.9,448.2 465.5,446.4 457.7,446.0 453.3,441.6 441.1,441.3 436.6,426.5 432.2,419.8 428.4,410.9 423.3,408.7 419.2,403.1 415.1,393.3 411.0,389.2 406.9,391.7 402.8,390.5 394.6,390.0 390.6,391.7 386.5,390.5 382.4,388.7 369.3,388.4 364.4,384.3 360.3,379.4 356.2,370.7 352.1,370.0 348.0,363.8 343.9,353.2 339.8,347.5 335.7,342.6 333.6,324.7 331.2,308.4 327.1,294.5 323.0,283.0 319.2,273.2 315.6,271.9 310.7,268.6 306.6,272.4 302.6,275.3 298.0,275.6 293.9,296.4 290.3,295.6 285.4,295.3 281.3,281.9 277.2,281.4 273.1,284.6 269.0,282.2 264.1,275.6 259.2,271.5 255.1,268.2 251.0,261.7 246.9,259.7 238.7,259.2 234.6,252.7 230.6,248.6 226.5,237.1 222.4,229.7 218.3,226.5 214.2,214.2 210.9,199.4"/></clipPath>
<path d="M75.5 120.5V813.5M113.5 120.5V813.5M134.5 120.5V813.5M163.5 120.5V813.5M197.5 120.5V813.5M226.5 120.5V813.5M260.5 120.5V813.5M285.5 120.5V813.5M314.5 120.5V813.5M344.5 120.5V813.5M382.5 120.5V813.5M407.5 120.5V813.5M449.5 120.5V813.5M491.5 120.5V813.5M533.5 120.5V813.5M46 568.5H546M46 541.5H546M46 514.5H546M46 487.5H546M46 460.5H546M46 433.5H546M46 406.5H546M46 379.5H546M46 352.5H546M46 325.5H546M46 298.5H546M46 271.5H546M46 244.5H546M46 217.5H546M46 190.5H546M46 163.5H546M46 136.5H546M46 594.5H547M46 698.5H547M46 802.5H547" clip-path="url(#ccl)" stroke="rgba(95,95,205,0.24)" stroke-width="1" fill="none" shape-rendering="crispEdges"/>
<polyline points="46.0,324.6 50.5,315.1 54.6,307.7 58.7,325.3 62.8,300.4 66.9,277.1 71.0,289.7 75.1,286.5 79.2,279.9 83.3,275.8 85.5,250.0 87.1,225.1 88.1,214.1 90.2,214.6 92.3,217.2 94.4,227.2 96.5,243.0 100.5,298.7 104.6,330.7 108.6,328.2 112.7,351.1 117.4,373.5 121.7,421.5 125.6,447.8 129.7,421.5 134.3,389.9 138.4,403.2 142.8,403.7 146.9,426.1 151.0,442.6 154.9,435.2 159.5,456.3 163.6,454.7 167.9,430.7 172.3,406.6 176.4,440.3 180.5,405.5 184.6,419.2 188.8,414.2 193.1,412.4 197.2,419.2 201.3,442.1 205.7,423.8 209.8,427.2 213.9,410.1 218.3,410.5 222.4,426.1 226.5,442.1 231.0,474.9 235.4,470.8 239.5,460.2 243.6,449.6 248.5,449.1 252.6,435.6 256.6,427.5 259.9,420.1 262.4,429.1 264.8,438.9 268.1,447.1 273.0,444.2 273.8,455.3 277.1,468.4 281.2,478.2 285.3,500.0 289.4,519.0 291.9,543.5 293.5,559.9 295.2,564.0 298.1,565.6 301.7,563.6" fill="none" stroke="#ffdcc0" stroke-opacity="0.5" stroke-width="2.3" stroke-linejoin="round"/>
<polyline points="46.0,324.6 50.5,315.1 54.6,307.7 58.7,325.3 62.8,300.4 66.9,277.1 71.0,289.7 75.1,286.5 79.2,279.9 83.3,275.8 85.5,250.0 87.1,225.1 88.1,214.1 90.2,214.6 92.3,217.2 94.4,227.2 96.5,243.0 100.5,298.7 104.6,330.7 108.6,328.2 112.7,351.1 117.4,373.5 121.7,421.5 125.6,447.8 129.7,421.5 134.3,389.9 138.4,403.2 142.8,403.7 146.9,426.1 151.0,442.6 154.9,435.2 159.5,456.3 163.6,454.7 167.9,430.7 172.3,406.6 176.4,440.3 180.5,405.5 184.6,419.2 188.8,414.2 193.1,412.4 197.2,419.2 201.3,442.1 205.7,423.8 209.8,427.2 213.9,410.1 218.3,410.5 222.4,426.1 226.5,442.1 231.0,474.9 235.4,470.8 239.5,460.2 243.6,449.6 248.5,449.1 252.6,435.6 256.6,427.5 259.9,420.1 262.4,429.1 264.8,438.9 268.1,447.1 273.0,444.2 273.8,455.3 277.1,468.4 281.2,478.2 285.3,500.0 289.4,519.0 291.9,543.5 293.5,559.9 295.2,564.0 298.1,565.6 301.7,563.6" fill="none" stroke="#e27c34" stroke-width="1.15" stroke-linejoin="round"/>
<polyline points="46.0,178.5 49.7,185.0 53.8,188.3 83.3,188.3 87.4,191.6 90.6,193.2 106.2,193.2 109.5,196.5 113.6,211.2 117.5,211.5 121.5,217.5 125.7,229.8 130.0,234.3 134.3,240.2 146.8,240.2 150.9,242.6 159.1,242.9 164.8,249.9 176.3,250.3 178.0,263.6 180.3,277.0 184.6,280.0 188.7,282.3 191.5,277.8 193.6,275.0 214.5,274.8 218.3,287.8 222.0,299.0 226.9,311.3 230.7,342.4 298.0,342.4 304.6,349.9 309.5,366.3 312.2,380.0 315.5,389.0 318.7,397.2 322.8,398.8 325.3,406.2 328.6,418.5 331.8,427.5 335.9,438.1 347.4,438.4 353.1,443.5 387.0,443.5 391.6,453.6 395.5,462.4 399.3,484.9 407.1,485.2" fill="none" stroke="#ffb4f0" stroke-opacity="0.6" stroke-width="2.6" stroke-linejoin="round"/>
<polyline points="46.0,178.5 49.7,185.0 53.8,188.3 83.3,188.3 87.4,191.6 90.6,193.2 106.2,193.2 109.5,196.5 113.6,211.2 117.5,211.5 121.5,217.5 125.7,229.8 130.0,234.3 134.3,240.2 146.8,240.2 150.9,242.6 159.1,242.9 164.8,249.9 176.3,250.3 178.0,263.6 180.3,277.0 184.6,280.0 188.7,282.3 191.5,277.8 193.6,275.0 214.5,274.8 218.3,287.8 222.0,299.0 226.9,311.3 230.7,342.4 298.0,342.4 304.6,349.9 309.5,366.3 312.2,380.0 315.5,389.0 318.7,397.2 322.8,398.8 325.3,406.2 328.6,418.5 331.8,427.5 335.9,438.1 347.4,438.4 353.1,443.5 387.0,443.5 391.6,453.6 395.5,462.4 399.3,484.9 407.1,485.2" fill="none" stroke="#a82e8e" stroke-width="1.05" stroke-linejoin="round"/>
<polyline points="46.0,178.5 49.7,185.8 53.8,189.9 59.5,192.4 65.3,191.6 73.5,190.7 83.3,191.1 89.8,194.0 93.1,195.6 105.4,195.6 107.0,205.5 109.5,223.5 112.7,241.5 114.4,244.7 117.6,248.0 120.1,251.3 122.6,259.5 125.0,270.1 129.1,272.6 133.2,278.3 138.9,279.5 142.9,280.5 147.5,283.1 151.4,293.5 159.2,307.9 163.8,315.1 167.1,319.4 172.3,313.8 180.1,312.9 184.1,310.9 188.6,309.9 190.2,295.0 191.6,283.1 192.9,275.4 197.8,274.7 205.2,260.8 208.5,266.6 214.2,272.3 218.3,287.8 222.0,299.0 226.9,311.3 230.7,342.4 235.1,352.2 239.2,366.9 243.3,386.6 247.4,398.0 252.4,398.6 253.2,406.0 254.2,412.7 257.5,425.0 262.4,434.0 266.5,434.8 272.2,432.7 277.1,432.7 281.2,438.9 285.6,440.9 290.2,438.1 302.4,438.1 306.5,427.5 310.5,423.4 327.7,422.9 331.8,427.5 335.9,444.6 347.4,445.0 351.5,449.6 360.5,448.7 365.4,452.8 370.3,452.8 375.2,448.7 378.5,444.4 383.4,445.0 388.0,452.1 392.7,466.2 397.4,490.5 400.2,493.3 403.9,494.2 408.2,507.3" fill="none" stroke="#b4f4a4" stroke-opacity="0.6" stroke-width="2.8" stroke-linejoin="round"/>
<polyline points="46.0,178.5 49.7,185.8 53.8,189.9 59.5,192.4 65.3,191.6 73.5,190.7 83.3,191.1 89.8,194.0 93.1,195.6 105.4,195.6 107.0,205.5 109.5,223.5 112.7,241.5 114.4,244.7 117.6,248.0 120.1,251.3 122.6,259.5 125.0,270.1 129.1,272.6 133.2,278.3 138.9,279.5 142.9,280.5 147.5,283.1 151.4,293.5 159.2,307.9 163.8,315.1 167.1,319.4 172.3,313.8 180.1,312.9 184.1,310.9 188.6,309.9 190.2,295.0 191.6,283.1 192.9,275.4 197.8,274.7 205.2,260.8 208.5,266.6 214.2,272.3 218.3,287.8 222.0,299.0 226.9,311.3 230.7,342.4 235.1,352.2 239.2,366.9 243.3,386.6 247.4,398.0 252.4,398.6 253.2,406.0 254.2,412.7 257.5,425.0 262.4,434.0 266.5,434.8 272.2,432.7 277.1,432.7 281.2,438.9 285.6,440.9 290.2,438.1 302.4,438.1 306.5,427.5 310.5,423.4 327.7,422.9 331.8,427.5 335.9,444.6 347.4,445.0 351.5,449.6 360.5,448.7 365.4,452.8 370.3,452.8 375.2,448.7 378.5,444.4 383.4,445.0 388.0,452.1 392.7,466.2 397.4,490.5 400.2,493.3 403.9,494.2 408.2,507.3" fill="none" stroke="#3ec432" stroke-width="1.05" stroke-linejoin="round"/>
<path d="M405.9 564.2h3.4l-1.700 3.700z" fill="#5a98c4"/>
</g>
<line x1="235.5" y1="489.2" x2="398.8" y2="585.9" stroke="#c0262c" stroke-width="3.5"/>
<path d="M46 582.5H603" stroke="#3a3f52" stroke-width="1" shape-rendering="crispEdges"/>
<path d="M46 646.5H552M46 750.5H552" stroke="#555a66" stroke-width="1" shape-rendering="crispEdges"/>
<g clip-path="url(#cpr)">
<polyline points="46.0,723.3 49.9,730.5 53.8,726.6 58.1,716.8 62.3,704.4 66.5,702.4 70.8,725.0 75.0,722.4 79.3,729.5 83.5,725.6 87.8,739.7 92.0,748.5 96.3,739.0 100.2,718.4 104.5,720.1 108.7,715.2 112.6,728.2 116.9,748.5 121.1,769.1 125.4,787.4 129.6,784.4 133.9,767.5 137.8,766.8 142.0,764.2 146.3,747.8 150.5,755.0 154.5,753.7 158.7,746.5 163.3,753.4 167.5,732.5 171.5,707.6 175.7,708.6 179.9,698.2 183.9,683.5 188.1,672.0 192.4,654.7 196.6,655.0 200.9,672.7 205.1,699.8 209.4,700.5 213.3,703.1 217.5,714.5 221.8,715.5 226.0,734.8 230.6,752.1 234.8,739.7 239.2,727.4 243.7,732.9 248.0,733.9 251.9,763.3 256.1,765.0 260.4,757.5 265.0,751.9 269.2,745.4 273.1,735.2 277.4,716.6 281.3,719.9 285.6,692.1 289.8,687.8 294.1,693.7 298.0,708.4 302.2,706.1 306.5,715.0 310.7,697.6 314.6,691.4 318.9,687.2 323.1,675.8 327.4,686.2 331.6,703.5 335.9,729.7 340.1,715.0 344.4,730.7 348.3,716.6 352.5,719.9 356.8,711.7 361.0,704.2 365.3,683.9 369.5,708.4 373.8,711.0 378.0,721.5 382.0,732.0 386.2,728.7 390.5,732.3 394.7,725.8 399.0,744.4 403.2,754.2 407.5,762.4" fill="none" stroke="#2424a0" stroke-width="1.2" stroke-linejoin="round"/>
</g>
<line x1="248" y1="769.5" x2="422" y2="769.5" stroke="#c0262c" stroke-width="3.1"/>
<path d="M46 583H110.5L103 604H46z" fill="#6d7286"/>
<rect x="49.5" y="585.5" width="16" height="16" fill="#142f7c" stroke="#0a1d58" stroke-width="1"/>
<path d="M54 590l7 7M61 590l-7 7" stroke="#fff" stroke-width="2"/>
<text x="72.5" y="598.3" font-family="'Liberation Sans',sans-serif" font-size="12.3" fill="#fff">RSI</text>
<path d="M546.6 120.5V813.5" stroke="#353a50" stroke-width="1.2"/>
<path d="M547 567.5H551M547 540.5H551M547 513.5H551M547 486.5H551M547 459.5H551M547 432.5H551M547 405.5H551M547 378.5H551M547 351.5H551M547 324.5H551M547 297.5H551M547 270.5H551M547 243.5H551M547 216.5H551M547 189.5H551M547 162.5H551M547 135.5H551" stroke="#3a3f52" stroke-width="1" shape-rendering="crispEdges"/>
<text x="561.3" y="247.3" font-family="'Liberation Sans',sans-serif" font-size="10.3" textLength="35.5" lengthAdjust="spacingAndGlyphs" fill="#505056">120.000</text>
<text x="561.3" y="518" font-family="'Liberation Sans',sans-serif" font-size="10.3" textLength="35.5" lengthAdjust="spacingAndGlyphs" fill="#505056">110.000</text>
<path d="M547.5 563L552.5 556H603V570H552.5z" fill="#b9d5f5"/>
<text x="557" y="567.2" font-family="'Liberation Sans',sans-serif" font-size="10.4" textLength="34" lengthAdjust="spacingAndGlyphs" fill="#1c1c1c">108.142</text>
<path d="M547 594.5H553" stroke="#3a3f52" stroke-width="1" shape-rendering="crispEdges"/>
<circle cx="554" cy="594.5" r="2.3" fill="#2b3558"/>
<text x="561.6" y="598.5" font-family="'Liberation Sans',sans-serif" font-size="10.3" textLength="29.4" lengthAdjust="spacingAndGlyphs" fill="#505056">100.00</text>
<path d="M547 646.5H553" stroke="#3a3f52" stroke-width="1" shape-rendering="crispEdges"/>
<circle cx="554" cy="646.5" r="2.3" fill="#2b3558"/>
<text x="561.6" y="650.5" font-family="'Liberation Sans',sans-serif" font-size="10.3" textLength="24.2" lengthAdjust="spacingAndGlyphs" fill="#505056">75.00</text>
<path d="M547 698.5H553" stroke="#3a3f52" stroke-width="1" shape-rendering="crispEdges"/>
<circle cx="554" cy="698.5" r="2.3" fill="#2b3558"/>
<text x="561.6" y="702.5" font-family="'Liberation Sans',sans-serif" font-size="10.3" textLength="24.2" lengthAdjust="spacingAndGlyphs" fill="#505056">50.00</text>
<path d="M547 750.5H553" stroke="#3a3f52" stroke-width="1" shape-rendering="crispEdges"/>
<circle cx="554" cy="750.5" r="2.3" fill="#2b3558"/>
<text x="561.6" y="754.5" font-family="'Liberation Sans',sans-serif" font-size="10.3" textLength="24.2" lengthAdjust="spacingAndGlyphs" fill="#505056">25.00</text>
<path d="M547 802.5H553" stroke="#3a3f52" stroke-width="1" shape-rendering="crispEdges"/>
<circle cx="554" cy="802.5" r="2.3" fill="#2b3558"/>
<text x="561.6" y="806.5" font-family="'Liberation Sans',sans-serif" font-size="10.3" textLength="18.8" lengthAdjust="spacingAndGlyphs" fill="#505056">0.00</text>
<rect x="46" y="813" width="501" height="5" fill="#0b2663"/>
<rect x="547" y="813" width="56" height="4" fill="#0b2663"/>
<path d="M75.5 818V822M113.5 818V822M134.5 818V822M163.5 818V822M197.5 818V822M226.5 818V822M260.5 818V822M285.5 818V822M314.5 818V822M344.5 818V822M382.5 818V822M407.5 818V822M449.5 818V822M491.5 818V822M533.5 818V822M46.5 818V822" stroke="#3a3f52" stroke-width="1" shape-rendering="crispEdges"/>
<text x="86.6" y="836.6" font-family="'Liberation Sans',sans-serif" font-size="10.2" textLength="52.8" lengthAdjust="spacingAndGlyphs" fill="#505056">2016-01-04</text>
<text x="184.6" y="836.6" font-family="'Liberation Sans',sans-serif" font-size="10.2" textLength="24.8" lengthAdjust="spacingAndGlyphs" fill="#505056">02-01</text>
<text x="272.6" y="836.6" font-family="'Liberation Sans',sans-serif" font-size="10.2" textLength="24.8" lengthAdjust="spacingAndGlyphs" fill="#505056">03-01</text>
<text x="369.6" y="836.6" font-family="'Liberation Sans',sans-serif" font-size="10.2" textLength="24.8" lengthAdjust="spacingAndGlyphs" fill="#505056">04-01</text>
<text x="436.6" y="836.6" font-family="'Liberation Sans',sans-serif" font-size="10.2" textLength="24.8" lengthAdjust="spacingAndGlyphs" fill="#505056">04-21</text>
<text x="478.6" y="836.6" font-family="'Liberation Sans',sans-serif" font-size="10.2" textLength="24.8" lengthAdjust="spacingAndGlyphs" fill="#505056">05-01</text>
<text x="520.6" y="836.6" font-family="'Liberation Sans',sans-serif" font-size="10.2" textLength="24.8" lengthAdjust="spacingAndGlyphs" fill="#505056">05-11</text>
</svg>
</body></html>
